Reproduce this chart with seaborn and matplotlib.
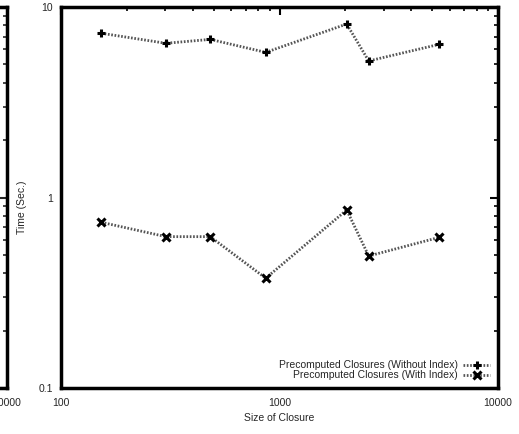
import matplotlib
matplotlib.use("Agg")
import matplotlib.pyplot as plt
import seaborn as sns
import pandas as pd
import numpy as np
from matplotlib.ticker import LogLocator, FixedLocator, NullFormatter

sns.set_style("white")
plt.rcParams['font.family'] = ['Liberation Sans', 'DejaVu Sans']

closure_size = [153, 302, 482, 865, 2030, 2560, 5390]
time_without_index = [7.28, 6.45, 6.76, 5.78, 8.14, 5.21, 6.37]
time_with_index = [0.741, 0.623, 0.623, 0.377, 0.860, 0.493, 0.618]
label_without = "Precomputed Closures (Without Index)"
label_with = "Precomputed Closures (With Index)"
x_ticks = [100, 1000, 10000]
x_tick_labels = ["100", "1000", "10000"]
y_ticks = [0.1, 1, 10]
y_tick_labels = ["0.1", "1", "10"]

df1 = pd.DataFrame({"x": closure_size, "y": time_without_index})
df2 = pd.DataFrame({"x": closure_size, "y": time_with_index})

W, H = 519, 434
fig = plt.figure(figsize=(W / 100, H / 100), dpi=100)
FS = 7.5

# clipped neighbour panel on the left
x0, x1, y0, y1 = 61, 498, 7, 388
ax0 = fig.add_axes([(7 - 300) / W, 1 - y1 / H, 300 / W, (y1 - y0) / H])
ax0.set_xscale("log")
ax0.set_yscale("log")
ax0.set_xlim(100, 10000)
ax0.set_ylim(0.1, 10)
ax0.xaxis.set_major_locator(FixedLocator(x_ticks))
ax0.set_xticklabels(x_tick_labels)
ax0.yaxis.set_major_locator(FixedLocator(y_ticks))
ax0.set_yticklabels([])
ax0.yaxis.set_minor_locator(LogLocator(base=10, subs=np.arange(2, 10)))
ax0.yaxis.set_minor_formatter(NullFormatter())
ax0.tick_params(which="major", direction="in", length=6, width=1.5, right=True,
                labelsize=FS, pad=7)
ax0.tick_params(which="minor", direction="in", length=3, width=1.2, right=True)
for s in ax0.spines.values():
    s.set_linewidth(2.5)
    s.set_color("black")

# main axes
ax = fig.add_axes([x0 / W, 1 - y1 / H, (x1 - x0) / W, (y1 - y0) / H])

line_kw = dict(color="#555555", linewidth=2.0, linestyle=(0, (0.6, 0.6)))
sns.lineplot(data=df1, x="x", y="y", ax=ax, **line_kw, label=label_without)
sns.lineplot(data=df2, x="x", y="y", ax=ax, **line_kw, label=label_with)
for ln, mk in zip(ax.lines[:2], ["+", "x"]):
    ln.set_marker(mk)
    ln.set_markersize(6)
    ln.set_markeredgewidth(2.2)
    ln.set_markeredgecolor("black")
    ln.set_markerfacecolor("black")

ax.set_xscale("log")
ax.set_yscale("log")
ax.set_xlim(100, 10000)
ax.set_ylim(0.1, 10)
ax.xaxis.set_major_locator(FixedLocator(x_ticks))
ax.set_xticklabels(x_tick_labels)
ax.yaxis.set_major_locator(FixedLocator(y_ticks))
ax.set_yticklabels(y_tick_labels)
ax.xaxis.set_minor_locator(LogLocator(base=10, subs=np.arange(2, 10)))
ax.yaxis.set_minor_locator(LogLocator(base=10, subs=np.arange(2, 10)))
ax.xaxis.set_minor_formatter(NullFormatter())
ax.yaxis.set_minor_formatter(NullFormatter())
ax.tick_params(which="major", direction="in", length=6, width=1.5, top=True, right=True,
               labelsize=FS, color="black")
ax.tick_params(axis="x", which="major", pad=7)
ax.tick_params(axis="y", which="major", pad=6)
ax.tick_params(which="minor", direction="in", length=3, width=1.2, top=True, right=True, color="black")
for s in ax.spines.values():
    s.set_linewidth(2.5)
    s.set_color("black")
ax.set_xlabel("Size of Closure", fontsize=FS, labelpad=4)
ax.set_ylabel("Time (Sec.)", fontsize=FS)
ax.yaxis.set_label_coords(-0.078, 0.475)

leg = ax.legend(loc="lower right", frameon=False, markerfirst=False, fontsize=FS,
                handlelength=2.6, handletextpad=0.5, labelspacing=0.0,
                borderaxespad=0.35)

fig.savefig("out.png", dpi=100)
